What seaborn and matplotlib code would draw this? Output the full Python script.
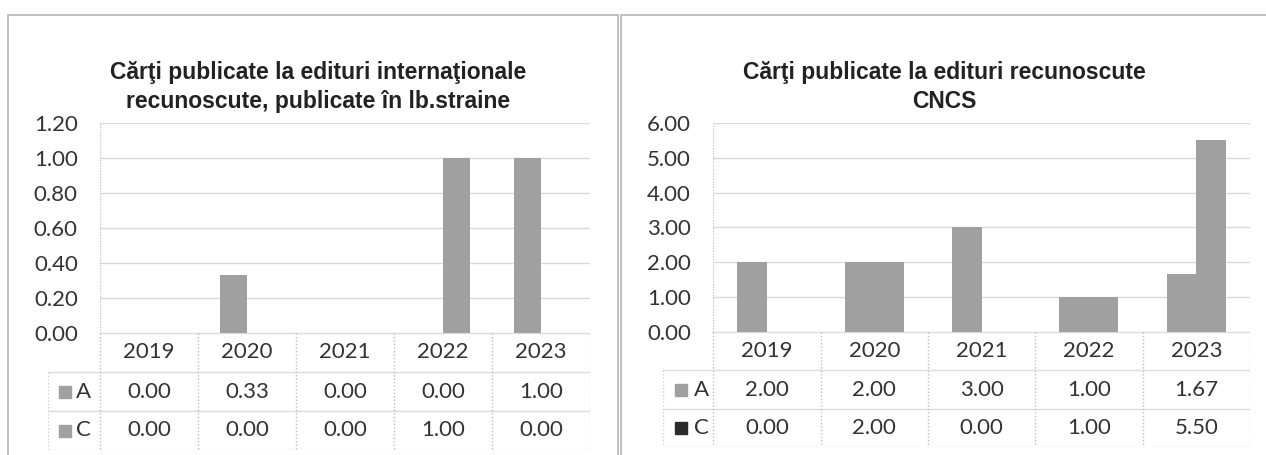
import matplotlib
matplotlib.use("Agg")
import matplotlib.pyplot as plt
import seaborn as sns
import pandas as pd
from matplotlib.patches import Rectangle

years = ["2019", "2020", "2021", "2022", "2023"]
series = ["A", "C"]

left_title = "Cărţi publicate la edituri internaţionale\nrecunoscute, publicate în lb.straine"
left_a = [0.00, 0.33, 0.00, 0.00, 1.00]
left_c = [0.00, 0.00, 0.00, 1.00, 0.00]
left_ticks = [0.0, 0.2, 0.4, 0.6, 0.8, 1.0, 1.2]

right_title = "Cărţi publicate la edituri recunoscute\nCNCS"
right_a = [2.00, 2.00, 3.00, 1.00, 1.67]
right_c = [0.00, 2.00, 0.00, 1.00, 5.50]
right_ticks = [0, 1, 2, 3, 4, 5, 6]

W, H = 1266, 455
BAR = "#a0a0a0"
GRID = "#d9d9d9"
TXT = "#333333"
FONT = "Lato"
FS = 16

sns.set_theme(style="white")
plt.rcParams["font.family"] = ["Lato", "DejaVu Sans"]

fig = plt.figure(figsize=(W / 100, H / 100), dpi=100)


def box(x0, y0, x1, y1):
    return [x0 / W, 1 - y1 / H, (x1 - x0) / W, (y1 - y0) / H]


def panel(a_vals, c_vals, ticks, title, plot_px, table_px, label_w, title_x,
          bar_width, c_marker):
    df = pd.DataFrame({
        "year": years * 2,
        "series": ["A"] * 5 + ["C"] * 5,
        "value": a_vals + c_vals,
    })

    ax = fig.add_axes(box(*plot_px))
    sns.barplot(data=df, x="year", y="value", hue="series",
                palette=[BAR, BAR], saturation=1, width=bar_width,
                linewidth=0, legend=False, ax=ax)
    ax.set_xlim(-0.5, 4.5)
    ax.set_ylim(ticks[0], ticks[-1])
    ax.set_yticks(ticks)
    ax.set_yticklabels([f"{t:.2f}" for t in ticks], fontsize=FS,
                       color=TXT, family=FONT)
    ax.tick_params(axis="y", length=0, pad=16)
    ax.set_xticks([])
    ax.set_xlabel("")
    ax.set_ylabel("")
    for s in ax.spines.values():
        s.set_visible(False)
    for t in ticks:
        ax.axhline(t, color=GRID, lw=1, zorder=0)
    ax.axvline(-0.5, color="#c8c8c8", lw=1, ls=(0, (1, 1)), zorder=0)

    # data table under the plot
    tb = fig.add_axes(box(*table_px))
    lo = -0.5 - label_w
    tb.set_xlim(lo, 4.5)
    tb.set_ylim(3, 0)
    tb.axis("off")
    for y in [1, 2, 3]:
        tb.plot([lo, 4.5], [y, y], color="#dcdcdc", lw=1)
    tb.plot([-0.5, 4.5], [0, 0], color="#dcdcdc", lw=1)
    for x in [-0.5, 0.5, 1.5, 2.5, 3.5, 4.5]:
        tb.plot([x, x], [0, 3], color="#bdbdbd", lw=1, ls=(0, (1, 1.5)))
    tb.plot([lo, lo], [1, 3], color="#cfcfcf", lw=1, ls=(0, (1, 1.5)))

    for i, yr in enumerate(years):
        tb.text(i, 0.5, yr, ha="center", va="center", fontsize=FS,
                color=TXT, family=FONT)
        tb.text(i, 1.5, f"{a_vals[i]:.2f}", ha="center", va="center",
                fontsize=FS, color=TXT, family=FONT)
        tb.text(i, 2.5, f"{c_vals[i]:.2f}", ha="center", va="center",
                fontsize=FS, color=TXT, family=FONT)

    for row, name, col in [(1.5, "A", BAR), (2.5, "C", c_marker)]:
        tb.plot([lo + 0.17], [row], marker="s", ms=8, color=col,
                mec=col, clip_on=False)
        tb.text(lo + 0.29, row, name, ha="left", va="center", fontsize=FS,
                color=TXT, family=FONT)

    fig.text(title_x / W, 1 - 87 / H, title, ha="center", va="center",
             fontsize=16.5, fontweight="bold", color="#222222",
             family=["Liberation Sans", "DejaVu Sans"], linespacing=1.28)


panel(left_a, left_c, left_ticks, left_title,
      (100, 123, 590, 333), (48, 333, 590, 450), 0.53, 318, 0.56, BAR)
panel(right_a, right_c, right_ticks, right_title,
      (713, 123, 1250, 332), (663, 332, 1250, 447), 0.47, 944, 0.55,
      "#2b2b2b")

# chart frames
for x0, x1 in [(8, 618), (621, 1270)]:
    fig.patches.append(Rectangle((x0 / W, -0.02), (x1 - x0) / W,
                                 1 - 15 / H + 0.02, transform=fig.transFigure,
                                 fill=False, ec="#b5b5b5", lw=1.2))

fig.savefig("out.png", dpi=100)
plt.close(fig)
